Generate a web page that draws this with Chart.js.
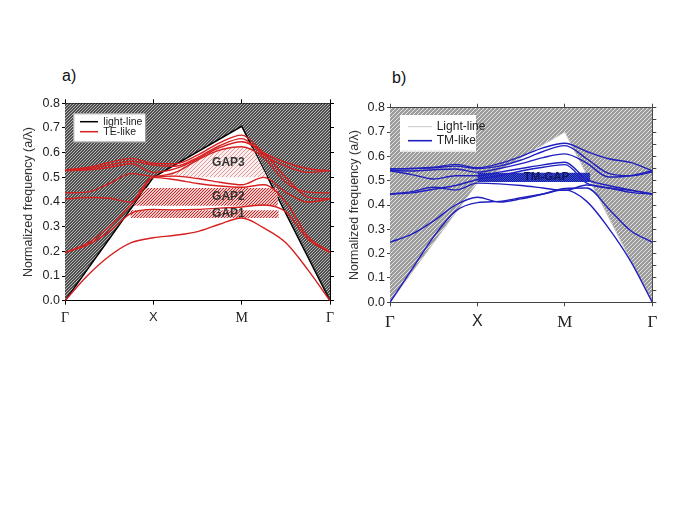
<!DOCTYPE html>
<html>
<head>
<meta charset="utf-8">
<script src="https://cdn.jsdelivr.net/npm/chart.js@4.4.1/dist/chart.umd.min.js"></script>
<style>
  body { margin: 0; background: #fff; width: 685px; height: 513px; position: relative; overflow: hidden;
         font-family: "Liberation Sans", Arial, sans-serif; }
  .panel { position: absolute; }
  .tag { position: absolute; font-size: 16px; color: #111; }
</style>
</head>
<body>
<div class="tag" style="left:62px;top:67px">a)</div>
<div class="tag" style="left:392px;top:69px">b)</div>
<div class="panel" style="left:0;top:55px;width:345px;height:285px"><canvas id="chartA"></canvas></div>
<div class="panel" style="left:345px;top:55px;width:340px;height:285px"><canvas id="chartB"></canvas></div>
<script>
// 1: data
// symmetry points along the k-path and the grid the bands are read on
let kLabels = ['Γ', 'X', 'M', 'Γ'];
let kGrid = [0, 0.25, 0.5, 0.75, 1, 1.25, 1.5, 1.75, 2, 2.25, 2.5, 2.75, 3];

// light-line at Γ, X, M, Γ
let lightLineTE = [0, 0.5, 0.707, 0];
let lightLineTM = [0, 0.49, 0.70, 0];

// TE-like bands (panel a), one value per kGrid point
let te1 = [0, 0.10, 0.18, 0.235, 0.255, 0.265, 0.28, 0.31, 0.335, 0.295, 0.235, 0.125, 0];
let te2 = [0.195, 0.225, 0.28, 0.355, 0.37, 0.368, 0.37, 0.375, 0.38, 0.388, 0.36, 0.25, 0.195];
let te3 = [0.195, 0.232, 0.30, 0.39, 0.50, 0.49, 0.475, 0.465, 0.46, 0.47, 0.40, 0.26, 0.197];
let te4 = [0.412, 0.418, 0.415, 0.40, 0.50, 0.505, 0.495, 0.48, 0.47, 0.50, 0.44, 0.40, 0.412];
let te5 = [0.437, 0.44, 0.475, 0.515, 0.505, 0.52, 0.57, 0.61, 0.624, 0.58, 0.48, 0.44, 0.437];
let te6 = [0.527, 0.53, 0.54, 0.555, 0.52, 0.535, 0.575, 0.62, 0.644, 0.597, 0.50, 0.42, 0.412];
let te7 = [0.527, 0.535, 0.55, 0.565, 0.55, 0.545, 0.58, 0.628, 0.657, 0.59, 0.545, 0.52, 0.527];
let te8 = [0.53, 0.54, 0.56, 0.577, 0.557, 0.555, 0.59, 0.64, 0.671, 0.60, 0.56, 0.535, 0.527];

// TM-like bands (panel b)
let tm1 = [0, 0.135, 0.27, 0.375, 0.41, 0.415, 0.43, 0.445, 0.462, 0.415, 0.305, 0.17, 0];
let tm2 = [0.247, 0.28, 0.335, 0.40, 0.432, 0.412, 0.425, 0.445, 0.468, 0.47, 0.385, 0.295, 0.247];
let tm3 = [0.445, 0.455, 0.473, 0.462, 0.49, 0.487, 0.48, 0.47, 0.46, 0.482, 0.47, 0.452, 0.445];
let tm4 = [0.445, 0.45, 0.465, 0.48, 0.505, 0.52, 0.54, 0.555, 0.566, 0.49, 0.47, 0.46, 0.445];
let tm5 = [0.541, 0.525, 0.507, 0.52, 0.52, 0.535, 0.55, 0.565, 0.576, 0.505, 0.48, 0.462, 0.445];
let tm6 = [0.541, 0.54, 0.545, 0.548, 0.535, 0.55, 0.57, 0.595, 0.61, 0.572, 0.515, 0.52, 0.541];
let tm7 = [0.548, 0.55, 0.553, 0.56, 0.55, 0.56, 0.585, 0.62, 0.644, 0.59, 0.53, 0.52, 0.535];
let tm8 = [0.548, 0.55, 0.555, 0.567, 0.553, 0.57, 0.60, 0.635, 0.654, 0.62, 0.59, 0.575, 0.541];

// band gaps: k values with lower / upper frequency edges
let gap1K = [0.74, 2.42];
let gap1Lo = [0.335, 0.335];
let gap1Hi = [0.367, 0.367];
let gap2K = [0.78, 0.91, 2.41];
let gap2Lo = [0.385, 0.385, 0.385];
let gap2Hi = [0.385, 0.457, 0.457];
let gap3K = [1.15, 1.68, 2.12, 2.29];
let gap3Lo = [0.5, 0.5, 0.5, 0.5];
let gap3Hi = [0.5, 0.62, 0.62, 0.5];
let tmGapK = [1.0, 2.29];
let tmGapLo = [0.495, 0.495];
let tmGapHi = [0.533, 0.533];

// 2: helpers
// diagonal hatch pattern for the filled regions
function hatch(bg, fg, size, width) {
  let c = document.createElement('canvas');
  c.width = size;
  c.height = size;
  let g = c.getContext('2d');
  g.fillStyle = bg;
  g.fillRect(0, 0, size, size);
  g.strokeStyle = fg;
  g.lineWidth = width;
  g.beginPath();
  g.moveTo(0, size); g.lineTo(size, 0);
  g.moveTo(-1, 1); g.lineTo(1, -1);
  g.moveTo(size - 1, size + 1); g.lineTo(size + 1, size - 1);
  g.stroke();
  return g.createPattern(c, 'repeat');
}

function lightSet(values, label, color, width, pattern) {
  return {
    label: label,
    inLegend: true,
    data: values.map((f, i) => ({ x: i, y: f })),
    borderColor: color,
    borderWidth: width,
    backgroundColor: pattern,
    fill: 'end',
    tension: 0,
    pointRadius: 0,
    order: 10
  };
}

function bandSets(bands, label, color) {
  return bands.map((b, i) => ({
    label: i === 0 ? label : '',
    inLegend: i === 0,
    data: b.map((f, j) => ({ x: kGrid[j], y: f })),
    borderColor: color,
    borderWidth: 1.4,
    pointRadius: 0,
    cubicInterpolationMode: 'monotone',
    fill: false,
    order: 1
  }));
}

// two boundary lines, the upper one filled down to the lower one
function gapSets(k, lo, hi, pattern) {
  return [{
    data: k.map((v, i) => ({ x: v, y: hi[i] })),
    borderWidth: 0,
    borderColor: 'rgba(0,0,0,0)',
    backgroundColor: pattern,
    fill: '+1',
    tension: 0,
    pointRadius: 0,
    order: 5
  }, {
    data: k.map((v, i) => ({ x: v, y: lo[i] })),
    borderWidth: 0,
    borderColor: 'rgba(0,0,0,0)',
    fill: false,
    tension: 0,
    pointRadius: 0,
    order: 5
  }];
}

// legend box drawn inside the plot area
const boxLegend = {
  id: 'boxLegend',
  afterDatasetsDraw(chart, args, o) {
    const ctx = chart.ctx;
    const area = chart.chartArea;
    const items = chart.data.datasets.filter(d => d.inLegend);
    const x = area.left + o.x;
    const y = area.top + o.y;
    ctx.save();
    ctx.fillStyle = '#fff';
    ctx.fillRect(x, y, o.w, o.h);
    ctx.strokeStyle = o.borderColor;
    ctx.lineWidth = 1;
    ctx.strokeRect(x + 0.5, y + 0.5, o.w, o.h);
    ctx.font = o.font;
    ctx.textBaseline = 'middle';
    items.forEach((d, i) => {
      const ly = y + o.rowTop + i * o.rowGap;
      ctx.strokeStyle = d.borderColor;
      ctx.lineWidth = o.lineWidths[i];
      ctx.beginPath();
      ctx.moveTo(x + o.lineX, ly);
      ctx.lineTo(x + o.lineX + o.lineLen, ly);
      ctx.stroke();
      ctx.fillStyle = '#222';
      ctx.fillText(d.label, x + o.textX, ly);
    });
    ctx.restore();
  }
};

// gap names written in the middle of each gap
const gapLabels = {
  id: 'gapLabels',
  afterDatasetsDraw(chart, args, o) {
    const ctx = chart.ctx;
    const sx = chart.scales.x;
    const sy = chart.scales.y;
    ctx.save();
    ctx.font = o.font;
    ctx.fillStyle = o.color;
    ctx.textAlign = 'center';
    ctx.textBaseline = 'middle';
    o.items.forEach(it => {
      ctx.fillText(it.text, sx.getPixelForValue(it.k), sy.getPixelForValue(it.f));
    });
    ctx.restore();
  }
};

function buildScales(p) {
  const serif = '"Liberation Serif", "Times New Roman", serif';
  const sans = '"Liberation Sans", Arial, sans-serif';
  return {
    x: {
      type: 'linear', position: 'bottom', min: 0, max: 3,
      afterFit: s => { s.height = 30; },
      ticks: {
        stepSize: 1, autoSkip: false, maxRotation: 0, padding: p.xPad, color: '#222',
        callback: v => kLabels[v],
        font: c => (c.tick && c.tick.value === 1)
          ? { family: sans, size: p.xSize }
          : { family: serif, size: p.xSize + 1 }
      },
      grid: { drawOnChartArea: false, tickLength: 4, color: p.axisColor },
      border: { color: p.axisColor, width: 1 }
    },
    xTop: {
      type: 'linear', position: 'top', min: 0, max: 3,
      afterFit: s => { s.height = 5; },
      ticks: { stepSize: 1, display: false },
      grid: { drawOnChartArea: false, tickLength: 4, color: p.axisColor },
      border: { color: p.axisColor, width: 1 }
    },
    y: {
      type: 'linear', position: 'left', min: 0, max: 0.8,
      afterFit: s => { s.width = p.yWidth; },
      ticks: {
        stepSize: p.yStep, padding: 2, color: '#222',
        font: { family: sans, size: 12.5 },
        callback: v => (Math.round(v * 100) % 10 === 0 ? v.toFixed(1) : '')
      },
      grid: { drawOnChartArea: false, tickLength: 3, color: p.axisColor },
      border: { color: p.axisColor, width: 1 },
      title: {
        display: true, text: 'Normalized frequency (a/λ)', color: '#333',
        font: { family: sans, size: 12.5 },
        padding: { top: p.titlePad, bottom: 0 }
      }
    },
    yRight: {
      type: 'linear', position: 'right', min: 0, max: 0.8,
      afterFit: s => { s.width = 5; },
      ticks: { stepSize: p.yStep, display: false },
      grid: { drawOnChartArea: false, tickLength: 4, color: p.axisColor },
      border: { color: p.axisColor, width: 1 }
    }
  };
}

// 3: panel a - TE-like
let grayDark = hatch('#4e4e4e', '#b8b8b8', 3, 1);
let redHatch = hatch('#f0c8c8', '#c42a2a', 3, 1);
let pinkHatch = hatch('#fbeeee', '#dc9c9c', 4, 1);

let dataA = [lightSet(lightLineTE, 'light-line', '#000', 1.5, grayDark)]
  .concat(gapSets(gap1K, gap1Lo, gap1Hi, redHatch))
  .concat(gapSets(gap2K, gap2Lo, gap2Hi, redHatch))
  .concat(gapSets(gap3K, gap3Lo, gap3Hi, pinkHatch))
  .concat(bandSets([te1, te2, te3, te4, te5, te6, te7, te8], 'TE-like', '#d61f1f'));

new Chart(document.getElementById('chartA'), {
  type: 'line',
  data: { datasets: dataA },
  options: {
    responsive: true,
    maintainAspectRatio: false,
    animation: false,
    layout: { padding: { left: 0, top: 43.3, right: 10, bottom: 9.3 } },
    scales: buildScales({ xPad: 5, xSize: 13, axisColor: '#000', yWidth: 65, yStep: 0.1, titlePad: 21 }),
    plugins: {
      legend: { display: false },
      tooltip: { enabled: false },
      boxLegend: {
        x: 8.3, y: 10, w: 72, h: 28.4, borderColor: '#999',
        lineX: 6.7, lineLen: 18, textX: 30, rowTop: 8.4, rowGap: 10,
        lineWidths: [1.5, 1.5], font: '10.5px "Liberation Sans", Arial, sans-serif'
      },
      gapLabels: {
        font: 'bold 12px "Liberation Sans", Arial, sans-serif', color: '#333',
        items: [
          { text: 'GAP1', k: 1.85, f: (gap1Lo[0] + gap1Hi[0]) / 2 },
          { text: 'GAP2', k: 1.85, f: (gap2Lo[1] + gap2Hi[1]) / 2 },
          { text: 'GAP3', k: 1.85, f: (gap3Lo[1] + gap3Hi[1]) / 2 }
        ]
      }
    }
  },
  plugins: [boxLegend, gapLabels]
});

// 4: panel b - TM-like
let grayLight = hatch('#9c9c9c', '#e4e4e4', 4, 1);
let blueHatch = hatch('#3a4ae2', '#16208e', 2, 1);

let dataB = [lightSet(lightLineTM, 'Light-line', '#c8c8c8', 1, grayLight)]
  .concat(gapSets(tmGapK, tmGapLo, tmGapHi, blueHatch))
  .concat(bandSets([tm1, tm2, tm3, tm4, tm5, tm6, tm7, tm8], 'TM-like', '#2020c0'));

new Chart(document.getElementById('chartB'), {
  type: 'line',
  data: { datasets: dataB },
  options: {
    responsive: true,
    maintainAspectRatio: false,
    animation: false,
    layout: { padding: { left: 0, top: 47.7, right: 27.7, bottom: 7.7 } },
    scales: buildScales({ xPad: 6, xSize: 16, axisColor: '#444', yWidth: 45, yStep: 0.05, titlePad: 2 }),
    plugins: {
      legend: { display: false },
      tooltip: { enabled: false },
      boxLegend: {
        x: 10, y: 7.3, w: 75, h: 35.7, borderColor: '#fff',
        lineX: 8, lineLen: 24, textX: 36.7, rowTop: 11.7, rowGap: 14,
        lineWidths: [1, 1.6], font: '12px "Liberation Sans", Arial, sans-serif'
      },
      gapLabels: {
        font: 'bold 11.5px "Liberation Sans", Arial, sans-serif', color: '#10165a',
        items: [
          { text: 'TM-GAP', k: 1.79, f: (tmGapLo[0] + tmGapHi[0]) / 2 }
        ]
      }
    }
  },
  plugins: [boxLegend, gapLabels]
});
</script>
</body>
</html>
